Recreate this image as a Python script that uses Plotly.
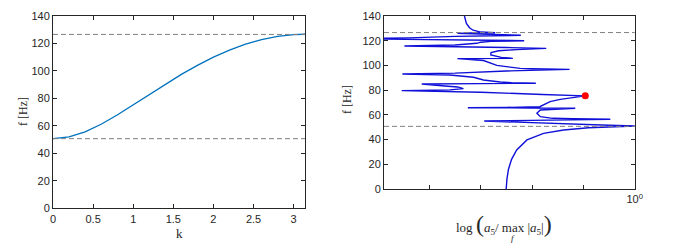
import plotly.graph_objects as go

# ---------------- data ----------------
# left panel: dispersion curve f(k)
k_vals = [0.0, 0.2, 0.4, 0.6, 0.8, 1.0, 1.2, 1.4, 1.6, 1.8, 2.0, 2.2, 2.4, 2.6, 2.8, 3.0, 3.1416]
f_disp = [50.7, 52.0, 55.7, 61.2, 67.9, 75.3, 82.9, 90.4, 97.5, 104.1, 110.1, 115.2, 119.5, 122.8, 125.2, 126.4, 126.7]

# band edges (dashed lines)
band_edges = [50.7, 126.6]

# right panel: response spectrum, log10 of normalised amplitude vs frequency
spec_f = [0, 8, 16, 24, 31.6, 39.7, 45.0, 47.7, 49.6, 50.6, 51.0,
          51.6, 52.6, 53.5, 54.4, 55.0, 55.5, 56.0, 56.4,
          56.8, 57.2, 58.5, 61.2, 63.9, 64.8, 65.3,
          65.6, 65.8, 66.0, 66.6, 68.0, 70.7, 72.5, 74.3, 75.4,
          76.5, 78.3, 79.6, 79.9, 80.2, 81.2, 82.6, 83.4, 85.0,
          85.3, 85.6, 86.0, 86.6, 88.2, 90.4, 92.2, 93.1,
          93.8, 95.5, 96.8, 97.3, 97.6, 100.0, 104.0, 105.5,
          105.7, 106.5, 108.5, 110.5, 111.9, 112.8, 113.8,
          114.5, 115.3, 115.7, 116.5, 117.9, 118.8, 119.5, 120.0,
          120.6, 121.6, 122.3, 123.5, 124.4, 125.0, 125.9, 126.2, 126.5,
          127.0, 128.5, 130.5, 134.0, 140.0]
spec_log10 = [-2.505, -2.49, -2.46, -2.40, -2.30, -2.10, -1.776, -1.386, -0.90, -0.40, 0.05,
              -0.5, -1.3, -1.8, -2.4, -2.934, -2.0, -1.0, -0.475,
              -1.2, -1.6, -1.84, -1.906, -1.84, -1.5, -1.158,
              -2.0, -3.253, -2.5, -1.85, -1.776, -1.65, -1.45, -1.2, -0.963,
              -1.8, -3.0, -4.541, -4.0, -3.6, -3.338, -3.45, -3.7, -4.151,
              -3.0, -1.926, -2.4, -2.622, -2.947, -3.142, -3.6, -4.528,
              -3.5, -2.5, -1.269, -2.0, -2.232, -2.687, -2.947, -3.455,
              -2.375, -2.6, -2.804, -2.80, -2.65, -2.3, -1.724,
              -2.5, -3.5, -4.489, -3.5, -3.077, -3.0, -2.8, -2.154,
              -3.5, -5.5, -4.4, -3.5, -2.219, -3.0, -3.455, -3.2, -2.72,
              -3.0, -3.15, -3.22, -3.28, -3.318]

# highlighted point
dot_log10 = [-0.963]
dot_f = [75.4]

y_ticks = [0, 20, 40, 60, 80, 100, 120, 140]
k_ticks = [0, 0.5, 1, 1.5, 2, 2.5, 3]
k_tick_text = ["0", "0.5", "1", "1.5", "2", "2.5", "3"]
log_tickvals = [1e-4, 1e-3, 1e-2, 1e-1, 1e0]
log_ticktext = ["", "", "", "", "10<sup>0</sup>"]

# ---------------- figure ----------------
W, H = 675, 252
AX = "#262626"
fig = go.Figure()

fig.add_trace(go.Scatter(x=k_vals, y=f_disp, mode="lines",
                         line=dict(color="#0072BD", width=1.3),
                         xaxis="x", yaxis="y", showlegend=False))

fig.add_trace(go.Scatter(x=[10 ** v for v in spec_log10], y=spec_f, mode="lines",
                         line=dict(color="#1010D8", width=1.4),
                         xaxis="x2", yaxis="y2", showlegend=False))

fig.add_trace(go.Scatter(x=[10 ** v for v in dot_log10], y=dot_f, mode="markers",
                         marker=dict(color="#FF0000", size=7),
                         xaxis="x2", yaxis="y2", showlegend=False))

shapes = []
for yb in band_edges:
    for xr, yr in (("x domain", "y"), ("x2 domain", "y2")):
        shapes.append(dict(type="line", xref=xr, yref=yr, x0=0, x1=1, y0=yb, y1=yb,
                           line=dict(color="#808080", width=1, dash="5px,3px"), layer="above"))

tickfont = dict(family="Liberation Sans, Arial, sans-serif", size=11, color=AX)
common = dict(showline=True, linecolor=AX, linewidth=1, mirror="ticks", ticks="inside",
              ticklen=4, tickcolor=AX, showgrid=False, zeroline=False, tickfont=tickfont,
              automargin=False)

fig.update_layout(
    template="none",
    width=W, height=H, margin=dict(l=0, r=0, t=0, b=0, pad=0, autoexpand=False),
    paper_bgcolor="white", plot_bgcolor="white",
    xaxis=dict(domain=[53 / W, 305 / W], range=[0, 3.14159], tickvals=k_ticks,
               ticktext=k_tick_text, anchor="y", **common),
    yaxis=dict(domain=[1 - 208.3 / H, 1 - 16 / H], range=[0, 140], tickvals=y_ticks,
               anchor="x", **common),
    xaxis2=dict(domain=[384 / W, 634.7 / W], type="log", range=[-4.886, 0],
                tickvals=log_tickvals, ticktext=log_ticktext, anchor="y2", **common),
    yaxis2=dict(domain=[1 - 189 / H, 1 - 16 / H], range=[0, 140], tickvals=y_ticks,
                anchor="x2", **common),
    shapes=shapes,
)

serif = "Liberation Serif, Times New Roman, serif"
ann = [
    dict(text="k", x=179 / W, y=1 - 233 / H, font=dict(family=serif, size=13, color=AX)),
    dict(text="f [Hz]", x=23 / W, y=1 - 112 / H, textangle=-90,
         font=dict(family=serif, size=12, color=AX)),
    dict(text="f [Hz]", x=347 / W, y=1 - 100 / H, textangle=-90,
         font=dict(family=serif, size=12, color=AX)),
    dict(text='log <span style="font-size:24px">(</span><i>a</i><sub>5</sub>/ max |<i>a</i><sub>5</sub>|<span style="font-size:24px">)</span>',
         x=504 / W, y=1 - 224 / H, font=dict(family=serif, size=13, color=AX)),
    dict(text="<i>f</i>", x=513 / W, y=1 - 238 / H, font=dict(family=serif, size=9, color=AX)),
]
for a in ann:
    a.update(xref="paper", yref="paper", showarrow=False, xanchor="center", yanchor="middle")
fig.update_layout(annotations=ann)

fig.write_html("out.html", config={"displayModeBar": False},
               post_script="document.body.style.margin='0px';document.body.style.padding='0px';")
